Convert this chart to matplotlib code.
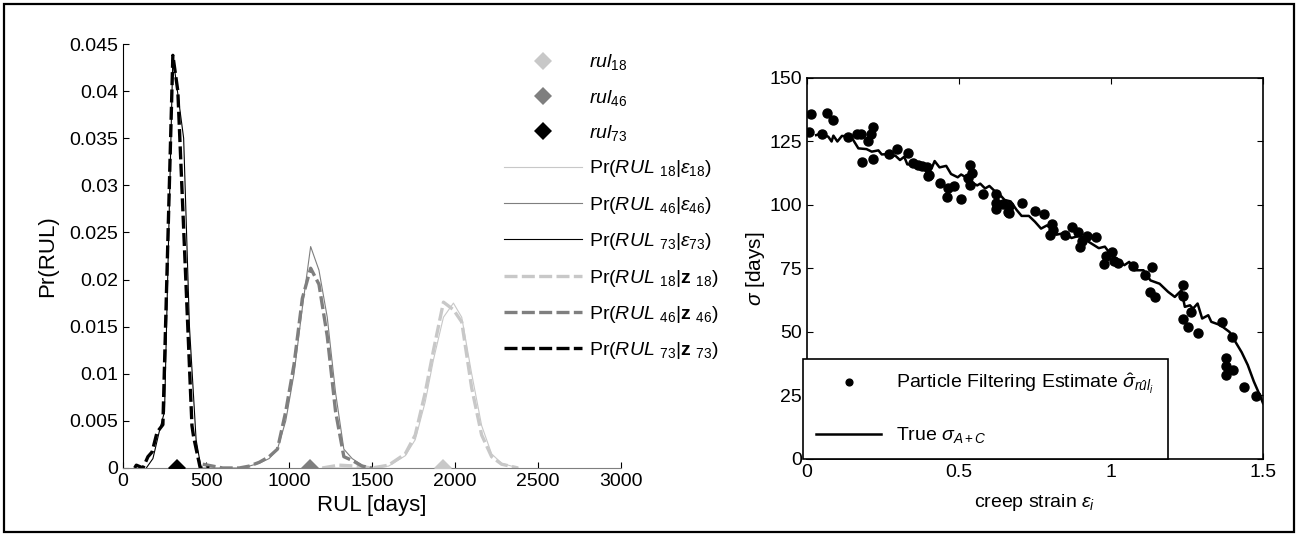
import matplotlib
matplotlib.use("Agg")
import matplotlib.pyplot as plt
from matplotlib.patches import Rectangle

plt.rcParams["font.family"] = "Liberation Sans"
plt.rcParams["mathtext.fontset"] = "custom"
plt.rcParams["mathtext.rm"] = "Liberation Sans"
plt.rcParams["mathtext.it"] = "Liberation Sans:italic"
plt.rcParams["mathtext.bf"] = "Liberation Sans:bold"

# --- left panel: RUL distributions ---
rul_true = [1930, 1125, 325]  # rul_18, rul_46, rul_73

x18 = [1200, 1300, 1400, 1500, 1600, 1700, 1760, 1820, 1870, 1930, 1990, 2040, 2100, 2160, 2220, 2280, 2380]
eps18 = [0, 0, 0, 0, 0.0002, 0.0013, 0.003, 0.007, 0.0115, 0.016, 0.0175, 0.016, 0.0100, 0.0045, 0.0015, 0.0005, 0]
z18 = [0, 0.0003, 0.0002, 0, 0.0003, 0.0015, 0.0035, 0.008, 0.0125, 0.0176, 0.0168, 0.0155, 0.0085, 0.0035, 0.0012, 0.0004, 0]

x46 = [480, 600, 700, 760, 820, 880, 930, 980, 1030, 1080, 1130, 1180, 1230, 1280, 1330, 1380, 1440, 1500]
eps46 = [0, 0, 0, 0.0002, 0.0005, 0.001, 0.002, 0.005, 0.010, 0.017, 0.0235, 0.021, 0.016, 0.008, 0.002, 0.001, 0.0003, 0]
z46 = [0.0004, 0, 0, 0.0002, 0.0006, 0.0012, 0.002, 0.006, 0.011, 0.018, 0.0212, 0.0195, 0.014, 0.006, 0.0012, 0.0008, 0.0002, 0]

x73_eps = [140, 180, 220, 250, 300, 365, 400, 440, 470]
eps73 = [0, 0.001, 0.004, 0.006, 0.0437, 0.035, 0.015, 0.003, 0]
x73_z = [70, 80, 120, 150, 175, 205, 240, 300, 330, 378, 415, 425, 465, 520]
z73 = [0, 0.0003, 0, 0.0012, 0.0017, 0.0038, 0.0046, 0.0438, 0.040, 0.020, 0.0045, 0.0033, 0, 0]

# --- right panel: sigma vs creep strain ---
pf_strain = [0.007, 0.012, 0.048, 0.065, 0.087, 0.136, 0.163, 0.177, 0.18, 0.202, 0.211, 0.218, 0.218,
             0.271, 0.297, 0.333, 0.35, 0.364, 0.38, 0.394, 0.397, 0.40, 0.4375, 0.46, 0.465, 0.485,
             0.506, 0.536, 0.544, 0.53, 0.536, 0.578, 0.622, 0.622, 0.622, 0.646, 0.665, 0.665, 0.706,
             0.75, 0.662, 0.781, 0.805, 0.80, 0.81, 0.849, 0.871, 0.893, 0.898, 0.904, 0.922, 0.951,
             0.977, 0.984, 1.002, 1.01, 1.024, 1.074, 1.112, 1.134, 1.128, 1.145, 1.236, 1.238, 1.238,
             1.254, 1.262, 1.287, 1.364, 1.397, 1.38, 1.38, 1.402, 1.38, 1.438, 1.477]
pf_sigma = [128.9, 135.7, 127.9, 136.3, 133.5, 126.6, 127.9, 127.9, 117.1, 125.3, 127.9, 130.8, 118.0,
            120.1, 121.9, 120.6, 116.7, 115.7, 115.4, 115.1, 111.4, 112.0, 108.5, 103.0, 106.6, 107.6,
            102.2, 115.7, 112.5, 110.5, 108.0, 104.3, 104.3, 100.7, 98.3, 100.4, 99.6, 97.0, 100.9,
            97.6, 97.4, 96.5, 92.5, 88.2, 90.0, 88.2, 91.5, 89.5, 83.6, 86.0, 87.8, 87.3,
            76.8, 79.9, 81.6, 78.0, 77.0, 76.0, 72.4, 75.5, 65.9, 63.7, 68.4, 64.2, 55.0,
            52.1, 58.0, 49.5, 54.1, 48.2, 39.6, 36.6, 35.0, 33.1, 28.2, 24.8]

true_strain = [0.03, 0.043, 0.07, 0.081, 0.087, 0.10, 0.115, 0.13, 0.15, 0.169, 0.196, 0.213, 0.235,
               0.246, 0.26, 0.27, 0.29, 0.306, 0.32, 0.33, 0.355, 0.388, 0.41, 0.42, 0.436, 0.458,
               0.474, 0.496, 0.507, 0.523, 0.54, 0.56, 0.57, 0.586, 0.60, 0.62, 0.635, 0.65, 0.67,
               0.69, 0.706, 0.73, 0.75, 0.77, 0.79, 0.82, 0.85, 0.87, 0.90, 0.92, 0.96, 0.98, 1.0,
               1.017, 1.044, 1.06, 1.077, 1.107, 1.13, 1.16, 1.188, 1.21, 1.232, 1.243, 1.26, 1.27,
               1.285, 1.30, 1.32, 1.33, 1.36, 1.39, 1.41, 1.43, 1.45, 1.47, 1.49, 1.50]
true_sigma = [127.5, 128.0, 126.9, 125.0, 127.3, 125.0, 127.2, 127.0, 126.0, 122.3, 122.0, 121.0, 121.5,
              119.9, 120.0, 118.6, 119.5, 117.7, 119.0, 116.0, 115.7, 115.4, 114.4, 117.3, 114.8, 115.4,
              112.2, 110.9, 112.0, 110.9, 109.0, 107.7, 108.4, 106.5, 107.5, 105.2, 104.0, 102.0, 101.4,
              98.0, 95.7, 95.7, 93.4, 90.7, 92.0, 88.3, 89.0, 87.0, 88.0, 86.0, 83.0, 83.6, 80.4,
              79.0, 76.3, 77.6, 74.3, 74.3, 70.3, 69.0, 65.8, 63.8, 66.4, 59.9, 60.5, 59.2,
              61.2, 55.3, 56.6, 54.0, 52.7, 50.0, 46.0, 42.0, 37.0, 30.5, 25.0, 22.0]

light, mid, dark = "#c8c8c8", "#7f7f7f", "#000000"
dash = (0, (3.9, 1.3))

fig = plt.figure(figsize=(12.98, 5.36), dpi=100)
fig.patches.append(Rectangle((0.003, 0.007), 0.994, 0.986, transform=fig.transFigure,
                             fill=False, edgecolor="black", lw=1.6))

# left
ax1 = fig.add_axes([0.0948, 0.1269, 0.3837, 0.791])
h_m = []
for x, c, lab in zip(rul_true, [light, mid, dark], ["18", "46", "73"]):
    h, = ax1.plot([x], [0], ls="none", marker="D", ms=9, color=c, mew=0, zorder=5,
                  label=r"$rul_{%s}$" % lab)
    h_m.append(h)
h_s = []
for xs, ys, c, lab in [(x18, eps18, light, "18"), (x46, eps46, mid, "46"), (x73_eps, eps73, dark, "73")]:
    h, = ax1.plot(xs, ys, color=c, lw=0.8, label=r"Pr($RUL\ _{%s}|\varepsilon_{%s}$)" % (lab, lab))
    h_s.append(h)
h_d = []
for xs, ys, c, lab in [(x18, z18, light, "18"), (x46, z46, mid, "46"), (x73_z, z73, dark, "73")]:
    h, = ax1.plot(xs, ys, color=c, lw=2.4, ls=dash,
                  label=r"Pr($RUL\ _{%s}|\mathbf{z}\ _{%s}$)" % (lab, lab))
    h_d.append(h)

ax1.set_xlim(0, 3000)
ax1.set_ylim(0, 0.045)
ax1.set_xticks(range(0, 3001, 500))
ax1.set_yticks([0, 0.005, 0.01, 0.015, 0.02, 0.025, 0.03, 0.035, 0.04, 0.045])
ax1.set_yticklabels(["0", "0.005", "0.01", "0.015", "0.02", "0.025", "0.03", "0.035", "0.04", "0.045"])
ax1.spines["top"].set_visible(False)
ax1.spines["right"].set_visible(False)
ax1.spines["bottom"].set_color(mid)
ax1.tick_params(direction="in", labelsize=14, length=4)
ax1.set_xlabel("RUL [days]", fontsize=16, labelpad=4)
ax1.set_ylabel("Pr(RUL)", fontsize=16, labelpad=8)
ax1.legend(handles=h_m + h_s + h_d, loc="upper left", bbox_to_anchor=(0.375, 0.935),
           bbox_transform=fig.transFigure, frameon=False, fontsize=14, handlelength=4.0,
           handletextpad=0.35, labelspacing=0.79)

# right
ax2 = fig.add_axes([0.6217, 0.1437, 0.3513, 0.7108])
ax2.plot(pf_strain, pf_sigma, ls="none", marker="o", ms=6.5, color="black",
         label=r"Particle Filtering Estimate $\hat{\sigma}_{r\hat{u}l_i}$")
ax2.plot(true_strain, true_sigma, color="black", lw=1.8, label=r"True $\sigma_{A+C}$")
ax2.set_xlim(0, 1.5)
ax2.set_ylim(0, 150)
ax2.set_xticks([0, 0.5, 1, 1.5])
ax2.set_xticklabels(["0", "0.5", "1", "1.5"])
ax2.set_yticks(range(0, 151, 25))
ax2.tick_params(direction="in", top=True, right=True, labelsize=14, length=4)
for s in ax2.spines.values():
    s.set_linewidth(1.2)
ax2.set_xlabel(r"creep strain $\varepsilon_i$", fontsize=14, labelpad=8)
ax2.set_ylabel(r"$\sigma$ [days]", fontsize=15, labelpad=2)
leg = ax2.legend(loc="lower left", bbox_to_anchor=(-0.009, 0.0), fontsize=14, fancybox=False,
                 framealpha=1, edgecolor="black", handlelength=3.3, markerscale=0.75,
                 labelspacing=1.5, borderaxespad=0, borderpad=0.7)
leg.get_frame().set_linewidth(1.2)

fig.savefig("out.png", dpi=100)
